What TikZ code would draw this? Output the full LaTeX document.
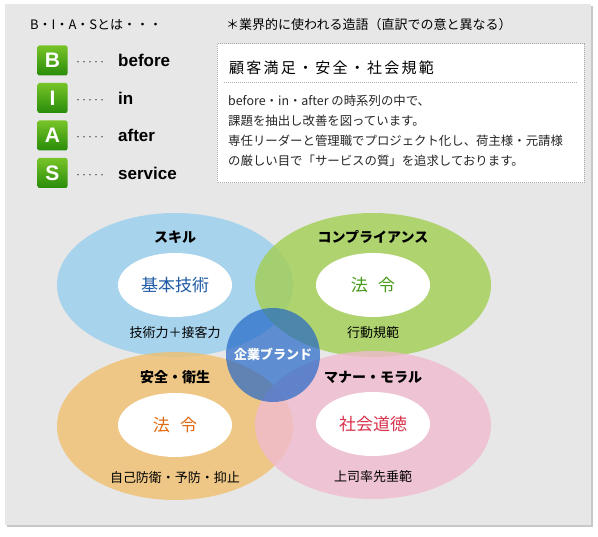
\documentclass[tikz,border=0pt]{standalone}
\usepackage{fontspec}
\setmainfont{Noto Sans CJK JP}
\newfontfamily\latinfont{Liberation Sans}
\newfontfamily\headfont[LetterSpace=15]{Noto Sans CJK JP}
\usetikzlibrary{positioning}

\definecolor{panelGray} {RGB}{231,231,231}
\definecolor{panelShade}{RGB}{200,200,200}
\definecolor{boxTop}    {RGB}{120,196,40}
\definecolor{boxBottom} {RGB}{40,140,10}
\definecolor{skillBlue} {RGB}{152,207,238}
\definecolor{compGreen} {RGB}{162,207,82}
\definecolor{safeOrange}{RGB}{240,192,111}
\definecolor{moralPink} {RGB}{240,187,207}
\definecolor{brandBlue} {RGB}{30,100,200}
\definecolor{txtBlue}   {RGB}{30,90,165}
\definecolor{txtGreen}  {RGB}{70,155,25}
\definecolor{txtOrange} {RGB}{225,105,15}
\definecolor{txtRed}    {RGB}{215,50,75}

\tikzset{
  biasbox/.style={rounded corners=2pt, minimum size=30pt, inner sep=0pt,
    top color=boxTop, bottom color=boxBottom, text=white,
    font=\latinfont\bfseries\fontsize{21}{21}\selectfont},
  biasword/.style={anchor=west, inner sep=0pt,
    font=\latinfont\bfseries\fontsize{17}{17}\selectfont},
  bodyline/.style={anchor=west, inner sep=0pt, text=black!85,
    font=\fontsize{12.4}{12.4}\selectfont},
  venntitle/.style={inner sep=0pt, font=\bfseries\fontsize{14}{14}\selectfont},
  vennsub/.style={inner sep=0pt, font=\fontsize{13}{13}\selectfont},
  venncore/.style={inner sep=0pt, font=\fontsize{17}{17}\selectfont},
  dotline/.style={gray!65, line width=1pt, dash pattern=on 1pt off 1pt}
}

\begin{document}
\begin{tikzpicture}[x=1pt, y=-1pt]
  \useasboundingbox (0,0) rectangle (598,537);
  \fill[white] (0,0) rectangle (598,537);
  \fill[panelShade] (7,6) rectangle (593,527);
  \fill[panelGray] (5,4) rectangle (591,525);

  % header
  \node[anchor=west, inner sep=0pt, font=\fontsize{13}{13}\selectfont]
        (biasHead) at (30,25) {B・I・A・Sとは・・・};
  \node[anchor=west, inner sep=0pt, font=\fontsize{13}{13}\selectfont]
        (noteHead) at (226,25) {＊業界的に使われる造語（直訳での意と異なる）};

  % B I A S
  \foreach \ltr/\word/\yy in {B/before/60.5, I/in/98, A/after/135.5, S/service/173}{
    \node[biasbox] (box\ltr) at (52.5,\yy) {\ltr};
    \node[anchor=west, inner sep=0pt, font=\fontsize{6}{6}\selectfont]
          (dots\ltr) at (75,\yy+3) {・・・・・};
    \node[biasword] (word\ltr) at (118,\yy) {\word};
  }

  % note box
  \fill[white] (217,44) rectangle (584,183);
  \draw[dotline] (217,44) rectangle (584,183);
  \node[anchor=west, inner sep=0pt, font=\headfont\fontsize{15}{15}\selectfont]
        (boxTitle) at (229,68) {顧客満足・安全・社会規範};
  \coordinate (sepL) at (224,83);
  \coordinate (sepR) at (577,83);
  \draw[dotline] (sepL)--(sepR);
  \node[bodyline] (line1) at (228,101) {before・in・after の時系列の中で、};
  \node[bodyline] (line2) at (228,121) {課題を抽出し改善を図っています。};
  \node[bodyline] (line3) at (228,141) {専任リーダーと管理職でプロジェクト化し、荷主様・元請様};
  \node[bodyline] (line4) at (228,161) {の厳しい目で「サービスの質」を追求しております。};

  % four ellipses
  \fill[skillBlue, opacity=.8] (175,285) ellipse [x radius=118pt, y radius=72pt];
  \fill[compGreen, opacity=.8] (373,285) ellipse [x radius=118pt, y radius=72pt];
  \fill[safeOrange, opacity=.8] (175,426) ellipse [x radius=118pt, y radius=74pt];
  \fill[moralPink, opacity=.8] (373,425) ellipse [x radius=118pt, y radius=74pt];
  \fill[white] (175,285) ellipse [x radius=57pt, y radius=32pt];
  \fill[white] (373,285) ellipse [x radius=57pt, y radius=32pt];
  \fill[white] (175,425) ellipse [x radius=57pt, y radius=32pt];
  \fill[white] (373,424) ellipse [x radius=57pt, y radius=32pt];

  \node[venntitle] (skill) at (175,237) {スキル};
  \node[venntitle] (comp)  at (373,237) {コンプライアンス};
  \node[venntitle] (safe)  at (175,377) {安全・衛生};
  \node[venntitle] (moral) at (373,377) {マナー・モラル};

  \node[venncore, text=txtBlue]   (coreSkill) at (175,285) {基本技術};
  \node[venncore, text=txtGreen]  (coreComp)  at (373,285) {法\hspace{0.6em}令};
  \node[venncore, text=txtOrange] (coreSafe)  at (175,425) {法\hspace{0.6em}令};
  \node[venncore, text=txtRed]    (coreMoral) at (373,424) {社会道徳};

  \node[vennsub] (subSkill) at (175,333) {技術力＋接客力};
  \node[vennsub] (subComp)  at (373,333) {行動規範};
  \node[vennsub] (subSafe)  at (175,478) {自己防衛・予防・抑止};
  \node[vennsub] (subMoral) at (373,477) {上司率先垂範};

  % brand circle
  \fill[brandBlue, opacity=.68] (273,355) circle (47pt);
  \node[inner sep=0pt, text=white, font=\bfseries\fontsize{13}{13}\selectfont]
        (brand) at (273,354) {企業ブランド};
\end{tikzpicture}
\end{document}
